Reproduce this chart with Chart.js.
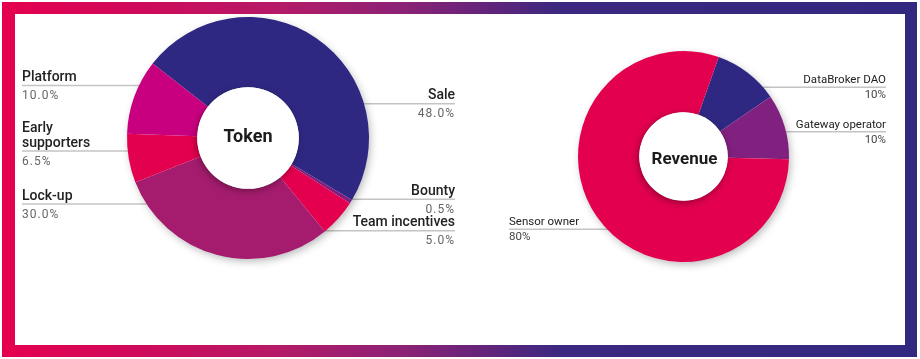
<!DOCTYPE html>
<html><head><meta charset="utf-8">
<script src="https://cdn.jsdelivr.net/npm/chart.js@4.4.1/dist/chart.umd.min.js"></script>
<style>
html,body{margin:0;padding:0;background:#fff;}
#wrap{position:relative;width:920px;height:359px;overflow:hidden;}
#frame{position:absolute;left:2px;top:2px;width:915px;height:355px;background:linear-gradient(to right,#e5004f 0%,#d0095a 14%,#b51a67 30%,#8a2276 44%,#62247a 53%,#3c2880 61%,#32287f 100%);}
#panel{position:absolute;left:15px;top:14px;width:890px;height:331px;background:#fff;}
canvas{position:absolute;left:0;top:0;}
</style></head>
<body><div id="wrap"><div id="frame"></div><div id="panel"></div>
<canvas id="c1" width="920" height="359"></canvas>
<canvas id="c2" width="920" height="359"></canvas></div>
<script>
// ---- data ----
const tokenTitle = 'Token';
const tokenCategories = ['Sale', 'Bounty', 'Team incentives', 'Lock-up', 'Early supporters', 'Platform'];
const tokenValues = [48.0, 0.5, 5.0, 30.0, 6.5, 10.0];
const revenueTitle = 'Revenue';
const revenueCategories = ['DataBroker DAO', 'Gateway operator', 'Sensor owner'];
const revenueValues = [10, 10, 80];

// ---- styles ----
const tokenColors = ['#2f2883', '#7b1f80', '#e4004f', '#a51c6e', '#e3004f', '#c8007f'];
const revenueColors = ['#2f2883', '#80207f', '#e2004f'];

const donutDecor = {
  id: 'donutDecor',
  beforeDatasetsDraw(chart, args, o) {
    const arc = chart.getDatasetMeta(0).data[0];
    const {x, y, outerRadius} = arc.getProps(['x', 'y', 'outerRadius'], true);
    const ctx = chart.ctx;
    ctx.save();
    ctx.strokeStyle = o.lineColor;
    ctx.lineWidth = o.lineWidth;
    o.labels.forEach(l => {
      const ly = y + l.dy;
      const dx = Math.sqrt(Math.max(outerRadius * outerRadius - l.dy * l.dy, 0));
      ctx.beginPath();
      if (l.side === 'left') { ctx.moveTo(o.leftX, ly); ctx.lineTo(x - dx + 3, ly); }
      else { ctx.moveTo(o.rightX, ly); ctx.lineTo(x + dx - 3, ly); }
      ctx.stroke();
    });
    ctx.shadowColor = 'rgba(0,0,0,0.30)';
    ctx.shadowBlur = 9; ctx.shadowOffsetX = 2; ctx.shadowOffsetY = 3;
    ctx.fillStyle = '#ffffff';
    ctx.beginPath(); ctx.arc(x, y, outerRadius - 1, 0, Math.PI * 2); ctx.fill();
    ctx.restore();
  },
  afterDatasetsDraw(chart, args, o) {
    const arc = chart.getDatasetMeta(0).data[0];
    const {x, y, innerRadius} = arc.getProps(['x', 'y', 'innerRadius'], true);
    const ctx = chart.ctx;
    ctx.save();
    ctx.shadowColor = 'rgba(0,0,0,0.35)';
    ctx.shadowBlur = 7; ctx.shadowOffsetX = -1; ctx.shadowOffsetY = 2;
    ctx.fillStyle = '#ffffff';
    ctx.beginPath(); ctx.arc(x, y, innerRadius, 0, Math.PI * 2); ctx.fill();
    ctx.restore();

    ctx.save();
    ctx.fillStyle = '#1c1c1c';
    ctx.font = o.titleFont;
    ctx.textAlign = 'center';
    ctx.textBaseline = 'alphabetic';
    ctx.fillText(o.title, x + o.titleDx, y + o.titleDy);

    const names = chart.data.labels;
    const vals = chart.data.datasets[0].data;
    o.labels.forEach((l, i) => {
      const ly = y + l.dy;
      const tx = l.side === 'left' ? o.leftX : o.rightX;
      ctx.textAlign = l.side === 'left' ? 'left' : 'right';
      const lines = l.wrap ? names[i].split(' ') : [names[i]];
      ctx.font = o.nameFont;
      ctx.fillStyle = o.nameColor;
      ctx.letterSpacing = '0px';
      lines.forEach((t, k) => {
        ctx.fillText(t, tx, ly - o.nameGap - (lines.length - 1 - k) * o.lineHeight);
      });
      ctx.font = o.valueFont;
      ctx.fillStyle = o.valueColor;
      ctx.letterSpacing = o.valueSpacing;
      ctx.fillText(vals[i].toFixed(o.decimals) + '%', tx, ly + o.valueGap);
    });
    ctx.restore();
  }
};

function makeChart(id, cats, vals, cols, pad, rotation, decor) {
  return new Chart(document.getElementById(id), {
    type: 'doughnut',
    data: {labels: cats, datasets: [{data: vals, backgroundColor: cols, borderWidth: 0, hoverOffset: 0}]},
    options: {
      responsive: false, animation: false, events: [],
      rotation: rotation, cutout: '42%',
      layout: {padding: pad},
      plugins: {legend: {display: false}, tooltip: {enabled: false}, donutDecor: decor}
    },
    plugins: [donutDecor]
  });
}

makeChart('c1', tokenCategories, tokenValues, tokenColors,
  {left: 127, right: 551, top: 17, bottom: 100}, 308, {
    title: tokenTitle, titleFont: '700 18px Roboto', titleDx: 0, titleDy: 4,
    leftX: 22, rightX: 455, lineColor: '#c4c4c4', lineWidth: 1.5,
    nameFont: '500 14px Roboto', nameColor: '#222222', nameGap: 4.5, lineHeight: 15,
    valueFont: '400 12px Roboto', valueColor: '#666666', valueSpacing: '1px', valueGap: 13.5, decimals: 1,
    labels: [
      {side: 'right', dy: -34.3},
      {side: 'right', dy: 61.3},
      {side: 'right', dy: 92.7},
      {side: 'left', dy: 66},
      {side: 'left', dy: 13, wrap: true},
      {side: 'left', dy: -52.5}
    ]
  });

makeChart('c2', revenueCategories, revenueValues, revenueColors,
  {left: 578, right: 131, top: 51, bottom: 97}, 19.5, {
    title: revenueTitle, titleFont: '700 17px Roboto', titleDx: 1, titleDy: 7,
    leftX: 509, rightX: 886, lineColor: '#c4c4c4', lineWidth: 1.5,
    nameFont: '400 11.5px Roboto', nameColor: '#222222', nameGap: 4, lineHeight: 14,
    valueFont: '400 11.5px Roboto', valueColor: '#444444', valueSpacing: '0px', valueGap: 11, decimals: 0,
    labels: [
      {side: 'right', dy: -69.2},
      {side: 'right', dy: -24.8},
      {side: 'left', dy: 72.8}
    ]
  });
</script>
</body></html>
